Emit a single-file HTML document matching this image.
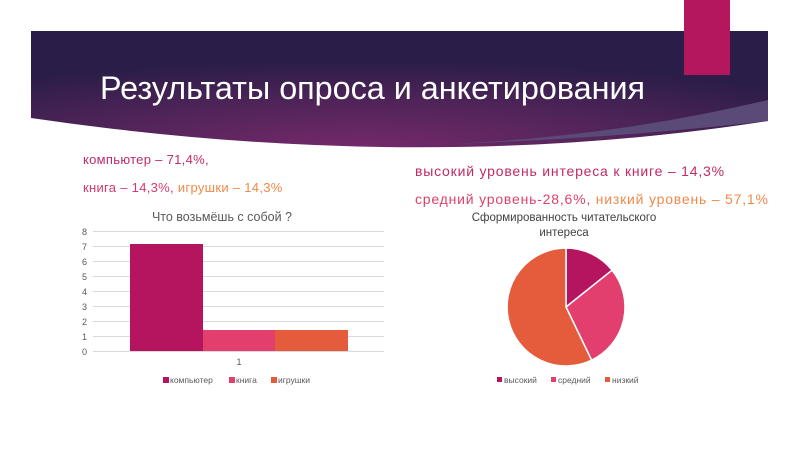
<!DOCTYPE html>
<html><head><meta charset="utf-8"><style>
body{margin:0;width:800px;height:450px;background:#fff;overflow:hidden;position:relative;font-family:"Liberation Sans","DejaVu Sans",sans-serif}
.t{position:absolute;white-space:nowrap}
</style></head><body>
<svg width="800" height="450" style="position:absolute;left:0;top:0">
<defs>
<radialGradient id="g" cx="0.45" cy="1" r="0.75">
<stop offset="0" stop-color="#74296a"/><stop offset="0.6" stop-color="#4a2356"/><stop offset="1" stop-color="#2a1d47"/></radialGradient>
</defs>
<path d="M31 31 H768 V121 Q420 175 31 118 Z" fill="url(#g)"/>
<path d="M768 100 Q600 140 420 145 Q600 140 768 121 Z" fill="#5a4a78"/>
<rect x="684" y="0" width="46" height="75" fill="#b5175f"/>
<text x="100" y="99" font-size="32" fill="#fff" font-family="Liberation Sans,sans-serif" textLength="545" lengthAdjust="spacingAndGlyphs">Результаты опроса и анкетирования</text>
<g font-size="9" fill="#595959">
<text x="222" y="221" font-size="12.5" text-anchor="middle">Что возьмёшь с собой ?</text>
<g stroke="#d9d9d9" stroke-width="1">
<line x1="93" x2="384" y1="231.5" y2="231.5"/><line x1="93" x2="384" y1="246.5" y2="246.5"/><line x1="93" x2="384" y1="261.5" y2="261.5"/><line x1="93" x2="384" y1="276.5" y2="276.5"/><line x1="93" x2="384" y1="291.5" y2="291.5"/><line x1="93" x2="384" y1="306.5" y2="306.5"/><line x1="93" x2="384" y1="321.5" y2="321.5"/><line x1="93" x2="384" y1="336.5" y2="336.5"/><line x1="93" x2="384" y1="351.5" y2="351.5"/>
</g>
<text x="87" y="235" text-anchor="end">8</text><text x="87" y="250" text-anchor="end">7</text><text x="87" y="265" text-anchor="end">6</text><text x="87" y="280" text-anchor="end">5</text><text x="87" y="295" text-anchor="end">4</text><text x="87" y="310" text-anchor="end">3</text><text x="87" y="325" text-anchor="end">2</text><text x="87" y="340" text-anchor="end">1</text><text x="87" y="355" text-anchor="end">0</text>
<rect x="130" y="244" width="73" height="107" fill="#b5145f"/>
<rect x="203" y="330" width="72" height="21" fill="#e23e6e"/>
<rect x="275" y="330" width="73" height="21" fill="#e45c3b"/>
<text x="239" y="365" text-anchor="middle">1</text>
<rect x="163" y="377" width="6" height="6" fill="#b5145f"/><text x="170" y="383" font-size="8.5">компьютер</text>
<rect x="229" y="377" width="6" height="6" fill="#e23e6e"/><text x="236" y="383" font-size="8.5">книга</text>
<rect x="271" y="377" width="6" height="6" fill="#e45c3b"/><text x="278" y="383" font-size="8.5">игрушки</text>
</g>
<g font-size="11.5" fill="#404040">
<text x="564" y="221" text-anchor="middle">Сформированность читательского</text>
<text x="564" y="236" text-anchor="middle">интереса</text>
</g>
<g stroke="#fff" stroke-width="1.5">
<path d="M566 307 L566 248 A59 59 0 0 1 612.1 270.2 Z" fill="#b5145f"/>
<path d="M566 307 L612.1 270.2 A59 59 0 0 1 591.6 360.2 Z" fill="#e23e6e"/>
<path d="M566 307 L591.6 360.2 A59 59 0 1 1 566 248 Z" fill="#e45c3b"/>
</g>
<g font-size="8.5" fill="#595959">
<rect x="497" y="377" width="5" height="5" fill="#b5145f"/><text x="504" y="383">высокий</text>
<rect x="551" y="377" width="5" height="5" fill="#e23e6e"/><text x="558" y="383">средний</text>
<rect x="605" y="377" width="5" height="5" fill="#e45c3b"/><text x="612" y="383">низкий</text>
</g>
</svg>
<div class="t" style="left:83px;top:152px;font-size:13px;letter-spacing:0.3px;color:#c02a67">компьютер – 71,4%,</div>
<div class="t" style="left:83px;top:180px;font-size:13px;letter-spacing:0.3px;color:#d63a6a">книга – 14,3%, <span style="color:#ef8a4a">игрушки – 14,3%</span></div>
<div class="t" style="left:415px;top:163px;font-size:14px;letter-spacing:0.8px;color:#c02a67">высокий уровень интереса к книге – 14,3%</div>
<div class="t" style="left:415px;top:191px;font-size:14px;letter-spacing:0.8px;color:#e0406a">средний уровень-28,6%, <span style="color:#ef8a4a">низкий уровень – 57,1%</span></div>
</body></html>
